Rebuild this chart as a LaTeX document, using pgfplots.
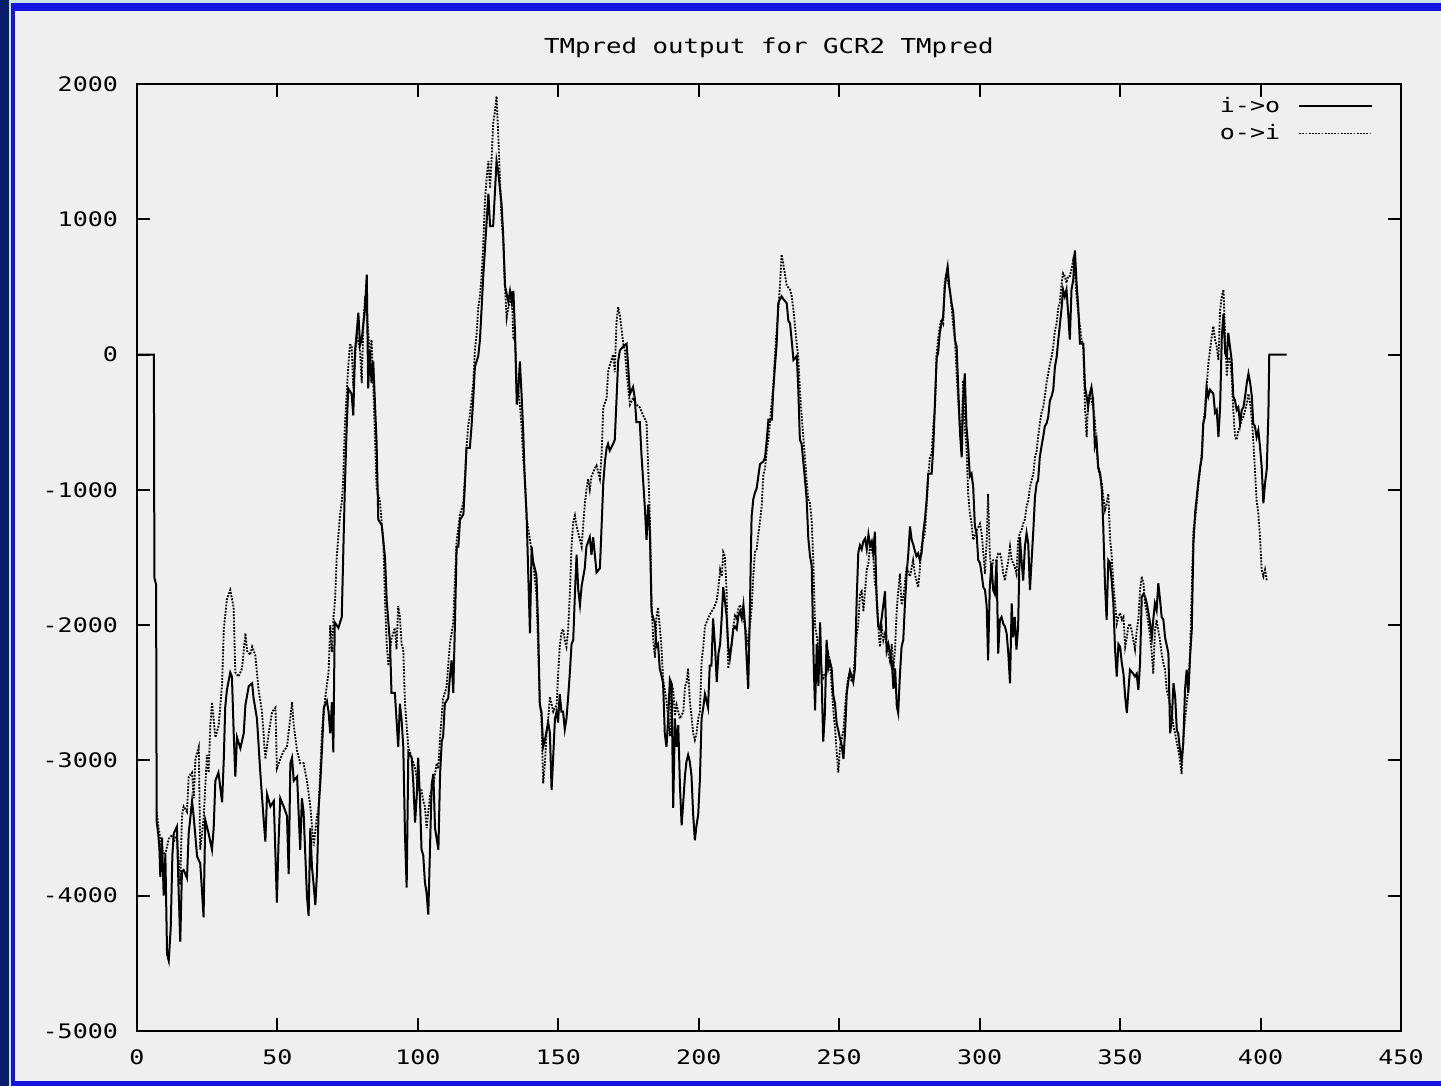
\documentclass[border=0pt]{standalone}
\usepackage{fontspec}
\usepackage{pgfplots}
\pgfplotsset{compat=1.18}
\newfontfamily\gp[FakeStretch=1.25]{DejaVu Sans Mono}
\definecolor{navy}{RGB}{10,30,110}
\definecolor{lightb}{RGB}{200,228,222}
\definecolor{frameblue}{RGB}{20,20,225}
\definecolor{bg}{RGB}{239,239,239}
\begin{document}
\begin{tikzpicture}
\fill[navy] (0pt,0pt) rectangle (720.5pt,543pt);
\fill[lightb] (4.5pt,0pt) rectangle (720.5pt,543pt);
\fill[frameblue] (5.5pt,0pt) rectangle (720.5pt,541.5pt);
\fill[bg] (7.5pt,2.5pt) rectangle (720.5pt,537.5pt);
\begin{axis}[
  at={(68.5pt,27.5pt)}, anchor=south west,
  scale only axis, width=632pt, height=473.5pt,
  xmin=0, xmax=450, ymin=-5000, ymax=2000,
  xtick={0,50,...,450}, ytick={-5000,-4000,...,2000},
  xticklabels={0,50,100,150,200,250,300,350,400,450},
  yticklabels={-5000,-4000,-3000,-2000,-1000,0,1000,2000},
  tick align=inside, major tick length=6.5pt,
  tick style={line width=1pt, black},
  axis line style={line width=1pt},
  xticklabel style={font=\gp, yshift=-6pt},
  yticklabel style={font=\gp, xshift=-6pt},
  title={TMpred output for GCR2 TMpred},
  title style={font={\gp\fontsize{10.3pt}{12pt}\selectfont}, yshift=3.5pt},
  legend style={font=\gp, draw=none, fill=none, at={(0.983,0.995)}, anchor=north east, row sep=0.5pt},
  legend cell align=right,
  legend plot pos=right,
  legend image code/.code={\path[draw=none,fill=none] (0pt,-1pt) rectangle (44pt,1pt); \draw[#1] (7.5pt,0pt) -- (44pt,0pt);},
  every axis plot/.append style={line width=1pt, black},
]
\addplot[black, line width=1pt] coordinates {
(0,0) (6,0) (6.2,-1650) (6.8,-1700) (7,-3450) (7.6,-3550) (8,-3660) (8.3,-3860) (8.9,-3570) (9.5,-4000) (10.1,-3700) (10.7,-4430) (11.3,-4480) (12,-4240) (12.6,-3700) (13.1,-3540) (14.2,-3490) (14.8,-3950) (15.4,-4340) (16,-3820) (16.6,-3810) (17.8,-3870) (18.4,-3540) (19.6,-3300) (20.2,-3420) (21.4,-3710) (22.5,-3760) (23.1,-3950) (23.7,-4160) (24.3,-3440) (25.5,-3540) (26.7,-3660) (27.3,-3500) (27.9,-3150) (29,-3090) (30.3,-3310) (30.9,-2990) (31.4,-2610) (32,-2480) (33.2,-2350) (33.8,-2380) (34.4,-2780) (35,-3120) (35.6,-2830) (36.8,-2910) (38,-2800) (38.6,-2590) (39.8,-2450) (41,-2430) (41.5,-2540) (42.7,-2690) (43.9,-3090) (45.1,-3440) (45.7,-3600) (46.3,-3250) (47.5,-3340) (48.7,-3300) (49.8,-4050) (50.4,-3600) (51,-3280) (52.2,-3340) (53.4,-3410) (54,-3840) (54.6,-3020) (55.2,-2980) (55.8,-3150) (57,-3120) (58.1,-3660) (58.7,-3280) (59.3,-3380) (60.5,-4000) (61.1,-4150) (61.7,-3500) (62.3,-3790) (62.9,-3920) (63.5,-4070) (64.1,-3820) (64.7,-3340) (65.3,-3150) (65.9,-2900) (66.5,-2610) (67.6,-2560) (68.2,-2640) (68.8,-2800) (69.4,-2570) (69.9,-2940) (70.4,-1980) (71.7,-2020) (72.9,-1940) (73.4,-1500) (74,-980) (74.6,-570) (75.2,-250) (76.4,-290) (77,-450) (77.6,30) (78.2,150) (78.8,310) (79.4,70) (80,110) (80.6,230) (81.2,350) (81.8,590) (82.3,-250) (82.9,30) (83.5,-210) (84.1,-50) (85.3,-650) (85.9,-1220) (87.1,-1260) (88.3,-1500) (88.9,-1820) (90.1,-2140) (90.6,-2500) (91.8,-2500) (92.4,-2700) (93,-2900) (93.6,-2580) (94.2,-2700) (94.8,-2900) (95.4,-3540) (96,-3940) (96.6,-2940) (97.8,-2980) (98.4,-3180) (99,-3460) (99.6,-3260) (100.1,-2980) (100.7,-3260) (101.3,-3660) (101.9,-3700) (102.5,-3900) (103.1,-3980) (103.7,-4140) (104.3,-3660) (104.9,-3180) (105.5,-3100) (106.1,-3500) (106.7,-3580) (107.3,-3660) (107.9,-3100) (108.5,-2860) (109,-2820) (109.6,-2580) (110.8,-2540) (111.4,-2380) (112,-2260) (112.6,-2500) (113.2,-1980) (113.8,-1420) (114.4,-1420) (115,-1220) (116.2,-1180) (116.8,-930) (117.3,-690) (118.5,-690) (119.1,-530) (119.7,-330) (120.3,-90) (121.5,-10) (122.1,110) (122.7,350) (123.3,590) (123.9,790) (124.5,990) (125.1,1190) (125.7,950) (126.8,950) (127.4,1190) (128,1430) (128.6,1350) (129.2,1230) (129.8,1110) (130.4,870) (131,510) (132.2,390) (132.8,470) (133.4,390) (134,470) (134.6,150) (135.2,-370) (135.7,-290) (136.3,-50) (136.9,-290) (137.5,-570) (138,-900) (138.7,-1180) (139.3,-1630) (139.9,-2060) (140.5,-1420) (141,-1530) (142.2,-1630) (142.8,-2000) (143.4,-2590) (144,-2640) (144.6,-2900) (145.2,-2850) (146.4,-2720) (147,-2800) (147.6,-3220) (148.2,-2960) (148.8,-2690) (149.4,-2640) (149.9,-2720) (150.5,-2510) (151.1,-2640) (151.7,-2640) (152.3,-2770) (152.9,-2690) (153.5,-2530) (154.1,-2350) (154.7,-2140) (155.3,-2110) (155.9,-1770) (156.5,-1480) (157.1,-1740) (157.7,-1850) (158.3,-1710) (159.4,-1580) (160,-1420) (161.2,-1350) (161.8,-1480) (162.4,-1350) (163,-1480) (163.6,-1610) (164.8,-1580) (165.4,-1270) (166,-950) (166.6,-790) (167.2,-690) (167.7,-660) (168.3,-710) (169.5,-660) (170.1,-630) (170.7,-340) (171.3,-50) (171.9,30) (173.1,60) (174.3,80) (174.9,-100) (175.5,-290) (176.6,-240) (177.2,-320) (177.8,-500) (179,-500) (179.6,-740) (180.8,-1130) (181.4,-1370) (182,-1110) (182.6,-1320) (183.2,-1900) (183.8,-1950) (184.4,-1980) (184.9,-2160) (185.5,-2140) (186.1,-2320) (186.7,-2370) (187.3,-2430) (187.9,-2800) (188.5,-2900) (189.1,-2690) (189.7,-2400) (190.3,-2430) (190.9,-3350) (191.5,-2690) (192.1,-2900) (192.7,-2740) (193.3,-3190) (193.9,-3480) (194.5,-3300) (195.1,-3110) (195.6,-3010) (196.2,-2960) (196.8,-3010) (197.4,-3110) (198,-3400) (198.6,-3590) (199.2,-3480) (199.8,-3400) (200.4,-3140) (201,-2690) (201.6,-2610) (202.2,-2510) (203.3,-2610) (203.9,-2300) (204.5,-2300) (205.1,-1950) (205.8,-2160) (206.4,-2420) (207,-2210) (207.6,-2140) (208.2,-1930) (208.7,-1720) (209.3,-1820) (209.9,-1930) (210.5,-2160) (211.1,-2240) (211.7,-2140) (212.3,-2030) (212.9,-2010) (213.5,-2030) (214.1,-1930) (214.7,-1900) (215.3,-1950) (215.9,-1850) (216.5,-2010) (217.1,-2270) (217.6,-2470) (218.2,-1880) (218.8,-1200) (219.4,-1070) (220,-1020) (220.6,-990) (221.8,-810) (223,-790) (223.6,-760) (224.2,-630) (224.8,-480) (226,-480) (226.5,-270) (227.1,-90) (227.7,70) (228.3,380) (228.9,410) (229.5,430) (230.1,410) (231.3,380) (231.9,250) (232.5,230) (233.1,100) (233.7,-40) (234.9,-10) (235.4,-240) (236,-630) (236.6,-660) (237.2,-790) (237.8,-920) (238.4,-1070) (239,-1360) (239.6,-1490) (240.2,-1560) (240.8,-2190) (241.4,-2630) (242,-2140) (242.6,-2450) (243.2,-1980) (243.8,-2450) (244.3,-2860) (244.9,-2650) (245.5,-2110) (246.1,-2320) (246.7,-2270) (247.3,-2320) (247.9,-2520) (248.5,-2580) (249.1,-2730) (249.7,-2780) (250.3,-2840) (250.9,-2890) (251.5,-2990) (252.1,-2780) (252.7,-2500) (253.2,-2420) (253.8,-2340) (254.4,-2370) (255,-2420) (255.6,-2320) (256.2,-1820) (256.8,-1460) (257.4,-1410) (258,-1440) (258.6,-1380) (259.2,-1360) (259.8,-1440) (260.4,-1330) (261,-1410) (261.6,-1380) (262.1,-1460) (262.7,-1310) (263.3,-1800) (263.9,-2010) (264.5,-2030) (265.1,-1950) (265.7,-1850) (266.3,-1750) (266.9,-2190) (267.5,-2140) (268.7,-2270) (269.3,-2470) (269.9,-2320) (270.5,-2600) (271,-2650) (271.6,-2370) (272.2,-2160) (272.8,-2110) (273.4,-1840) (274,-1620) (274.6,-1470) (275.2,-1270) (275.8,-1370) (276.3,-1400) (276.9,-1450) (277.5,-1490) (278.1,-1470) (278.7,-1520) (279.3,-1470) (279.9,-1320) (280.5,-1220) (281.1,-1080) (281.7,-880) (282.9,-880) (283.5,-680) (284.1,-340) (284.7,-20) (285.2,10) (285.8,160) (286.4,230) (287,280) (287.6,500) (288.2,600) (288.6,650) (289.2,500) (290,380) (290.6,310) (291.2,110) (291.8,60) (292.4,-260) (293,-580) (293.6,-760) (294.1,-340) (294.7,-140) (295.3,-530) (295.9,-680) (296.5,-900) (297.1,-880) (297.7,-980) (298.3,-1270) (298.9,-1320) (299.5,-1520) (300.1,-1540) (300.7,-1620) (301.3,-1720) (301.9,-1740) (302.5,-1860) (303,-2260) (303.6,-1720) (304.2,-1540) (304.8,-1740) (305.4,-1770) (306,-1520) (306.6,-2210) (307.2,-1960) (307.8,-1940) (308.4,-1990) (309,-2010) (309.6,-2060) (310.2,-2210) (310.8,-2430) (311.4,-1840) (311.9,-2090) (312.5,-1940) (313.1,-2180) (313.7,-2010) (314.3,-1350) (314.9,-1520) (315.5,-1670) (316.1,-1420) (316.7,-1320) (317.3,-1400) (317.9,-1740) (318.5,-1520) (319.1,-1300) (319.7,-1050) (320.3,-950) (320.8,-930) (321.4,-760) (322,-680) (322.6,-610) (323.2,-530) (323.8,-510) (324.4,-460) (325,-340) (325.6,-310) (326.2,-260) (326.8,-90) (327.4,-20) (328,110) (328.5,210) (329.2,350) (329.7,480) (330.3,430) (330.9,480) (331.5,310) (332.1,110) (332.7,480) (333.3,550) (333.9,770) (334.5,530) (335.1,350) (335.7,80) (336.9,80) (337.5,-240) (338.1,-310) (338.6,-390) (339.2,-290) (339.8,-240) (340.4,-340) (341,-680) (341.6,-630) (342.2,-830) (342.9,-880) (343.5,-1000) (344,-1270) (344.6,-1690) (345.2,-1960) (345.8,-1520) (346.4,-1540) (347,-1670) (347.6,-1840) (348.2,-2180) (348.8,-2380) (349.4,-2140) (350,-2160) (350.6,-2280) (351.2,-2360) (351.8,-2530) (352.4,-2650) (352.9,-2500) (353.5,-2330) (354.7,-2360) (355.3,-2380) (355.9,-2360) (356.5,-2480) (357.1,-2280) (357.7,-1790) (358.3,-1770) (358.9,-1790) (359.5,-1840) (360.1,-1910) (360.7,-1990) (361.3,-2090) (361.8,-1960) (362.4,-1840) (363,-1890) (363.6,-1690) (364.2,-1810) (364.8,-1940) (365.4,-1960) (366,-2090) (367.2,-2210) (367.8,-2800) (368.4,-2700) (369,-2430) (369.6,-2530) (370.2,-2780) (370.7,-2800) (371.3,-2920) (371.9,-3000) (372.5,-2870) (373.1,-2480) (373.7,-2330) (374.3,-2500) (374.9,-2230) (375.5,-2040) (376.1,-1400) (376.7,-1170) (377.3,-1050) (377.9,-930) (378.5,-830) (379.1,-760) (379.6,-510) (380.2,-460) (380.8,-240) (381.4,-310) (382,-260) (383.2,-290) (383.8,-430) (384.4,-410) (385,-610) (385.6,-390) (386.2,130) (386.8,300) (387.4,10) (388,-20) (388.5,160) (389.1,60) (389.7,-40) (390.3,-310) (390.9,-340) (391.5,-410) (392.1,-390) (392.7,-510) (393.3,-410) (393.9,-390) (394.5,-310) (395.1,-210) (395.7,-140) (396.3,-210) (396.9,-310) (397.4,-510) (398,-530) (398.6,-610) (399.2,-560) (399.8,-680) (400.4,-830) (401,-1100) (401.6,-950) (402.2,-850) (402.8,-430) (403.1,0) (409.3,0)
};
\addlegendentry{i->o}
\addplot[black, line width=0.9pt, dash pattern=on 0.9pt off 0.7pt] coordinates {
(7,-3380) (7.7,-3500) (8.9,-3660) (10,-3700) (11.3,-3580) (12.5,-3550) (13.1,-3600) (14.2,-3550) (15.4,-3920) (16,-3410) (16.6,-3340) (17.8,-3380) (18.4,-3120) (19.6,-3090) (20.2,-3280) (20.8,-2990) (22,-2900) (22.5,-3660) (23.7,-3440) (24.9,-2960) (25.5,-3090) (26.1,-2740) (26.7,-2570) (27.9,-2830) (29.1,-2740) (30.3,-2430) (30.9,-2030) (32,-1810) (33.2,-1740) (34.4,-1870) (35,-2350) (36.2,-2380) (37.4,-2320) (38.6,-2060) (39.2,-2190) (40.3,-2220) (41,-2160) (42.1,-2220) (43.3,-2480) (44.5,-2640) (45.7,-2990) (46.9,-2800) (48.1,-2640) (49.3,-2610) (49.8,-3060) (51,-2990) (52.2,-2930) (53.4,-2900) (55.2,-2570) (55.8,-2740) (57,-2930) (58.1,-3020) (59.3,-3020) (60.5,-3150) (61.7,-3340) (62.9,-3630) (64.1,-3410) (64.7,-3340) (65.9,-2770) (67,-2540) (68.2,-2350) (68.8,-2000) (69.4,-2200) (70,-1930) (70.5,-1820) (71.1,-1500) (71.7,-1340) (72.3,-1180) (72.9,-1090) (73.4,-930) (74,-530) (75.2,-90) (75.8,70) (76.4,70) (77,-250) (78.2,150) (79.4,30) (80,-210) (80.6,230) (81.2,430) (81.8,270) (82.3,190) (82.9,-50) (83.5,110) (84.1,-210) (85.3,-980) (86.5,-1090) (87.7,-1380) (88.3,-1820) (88.9,-2140) (89.5,-2300) (90.6,-2100) (91.8,-2020) (92.4,-2180) (93,-1860) (93.6,-1940) (94.2,-2140) (94.8,-2180) (95.4,-2580) (96,-2740) (96.6,-2900) (97.8,-2980) (99,-3060) (99.6,-3140) (100.1,-3220) (101.3,-3220) (101.9,-3300) (102.5,-3340) (103.1,-3500) (104.3,-3260) (105.5,-3180) (106.7,-3020) (107.3,-3060) (107.9,-2820) (109,-2540) (110.2,-2460) (111.4,-2140) (112.6,-1980) (113.2,-1660) (113.8,-1380) (115,-1180) (115.6,-1140) (116.2,-1090) (116.8,-890) (117.3,-690) (117.9,-530) (118.5,-450) (119.1,-330) (119.7,-210) (120.3,30) (120.9,150) (121.5,350) (122.1,430) (122.7,590) (123.3,830) (123.9,1150) (124.5,1310) (125.1,1430) (125.7,1230) (126.3,1470) (126.8,1710) (127.4,1790) (128,1910) (128.6,1630) (129.2,1310) (129.8,990) (130.4,830) (131,510) (131.6,270) (132.2,350) (132.8,390) (133.4,470) (134,110) (134.6,110) (135.2,-210) (135.7,-250) (136.3,-370) (136.9,-530) (137.5,-770) (138.1,-900) (138.7,-1210) (139.9,-1370) (141,-1530) (142.2,-1770) (142.8,-2160) (143.4,-2560) (144,-2690) (144.6,-3170) (145.2,-3030) (145.8,-2800) (146.4,-2690) (147,-2530) (148.2,-2640) (149.4,-2590) (149.9,-2370) (150.5,-2160) (151.1,-2060) (151.7,-2030) (152.3,-2110) (152.9,-2160) (153.5,-2030) (154.1,-1770) (154.7,-1420) (155.3,-1240) (155.9,-1190) (156.5,-1270) (157.7,-1370) (158.3,-1420) (158.8,-1270) (159.4,-1110) (160,-1000) (160.6,-920) (161.2,-1000) (161.8,-900) (163,-840) (163.6,-820) (164.8,-920) (165.4,-740) (166,-390) (167.2,-320) (167.7,-130) (168.3,-80) (169.5,0) (170.1,-130) (170.7,240) (171.3,350) (171.9,290) (172.5,190) (173.1,80) (173.7,30) (174.3,-130) (175.5,-370) (176.6,-320) (177.8,-370) (179,-390) (180.2,-450) (181.4,-500) (182,-840) (182.6,-1210) (183.2,-1850) (183.8,-2110) (184.4,-2240) (184.9,-1950) (185.5,-1870) (186.1,-2010) (186.7,-2160) (187.3,-2400) (188.5,-2560) (189.7,-2820) (190.3,-2430) (190.9,-2480) (191.5,-2670) (192.1,-2590) (193.3,-2690) (194.5,-2640) (195.1,-2450) (195.6,-2430) (196.2,-2320) (196.8,-2560) (197.4,-2670) (198,-2800) (198.6,-2850) (199.2,-2800) (199.8,-2690) (200.4,-2640) (201,-2270) (201.6,-2160) (202.2,-2010) (203.3,-1950) (204.5,-1900) (205.2,-1880) (206.4,-1820) (207,-1720) (207.6,-1590) (208.2,-1640) (208.7,-1460) (209.3,-1490) (209.9,-1750) (210.5,-2320) (211.1,-2210) (211.7,-2140) (212.3,-2010) (212.9,-1930) (213.5,-1950) (214.1,-1880) (214.7,-1850) (215.3,-1900) (215.9,-1950) (216.5,-2010) (217.1,-2080) (217.6,-2140) (218.2,-2010) (218.8,-1880) (219.4,-1640) (220,-1460) (220.6,-1440) (221.2,-1330) (221.8,-1230) (222.4,-1120) (223,-890) (223.6,-840) (224.2,-710) (224.8,-630) (225.4,-480) (226,-350) (226.5,-240) (227.1,-10) (227.7,170) (228.3,330) (228.9,510) (229.5,740) (230.1,670) (230.7,590) (231.3,510) (232.5,480) (233.1,430) (233.7,330) (234.3,200) (234.9,70) (235.4,-10) (236,-270) (236.6,-450) (237.2,-610) (237.8,-760) (238.4,-940) (239,-1070) (239.6,-1100) (240.2,-1230) (240.8,-1540) (241.4,-2010) (242,-2080) (243.2,-2270) (244.3,-2390) (245.5,-2340) (246.1,-2210) (246.7,-2270) (247.3,-2450) (247.9,-2630) (248.5,-2760) (249.1,-2940) (249.7,-3090) (250.3,-2890) (250.9,-2840) (251.5,-2780) (252.1,-2600) (252.7,-2470) (253.2,-2390) (253.8,-2340) (254.4,-2420) (255,-2390) (255.6,-2240) (256.2,-2080) (256.8,-1980) (257.4,-1770) (258,-1750) (258.6,-1900) (259.2,-1750) (259.8,-1590) (260.4,-1540) (261,-1410) (261.6,-1440) (262.1,-1490) (262.7,-1690) (263.3,-1750) (263.9,-2010) (264.5,-2160) (265.1,-2010) (265.7,-2110) (266.3,-2060) (266.9,-2160) (267.5,-2210) (268.1,-2270) (268.7,-2140) (269.3,-2340) (269.9,-2160) (270.5,-1880) (271,-1750) (271.6,-1620) (272.2,-1850) (272.8,-1800) (274,-1570) (275.2,-1640) (276.3,-1520) (276.9,-1620) (278.1,-1720) (278.7,-1590) (279.3,-1420) (279.9,-1370) (280.5,-1320) (281.1,-1120) (281.7,-900) (282.3,-760) (282.9,-730) (283.5,-530) (284.1,-390) (284.7,10) (285.2,110) (285.8,210) (286.4,260) (287,230) (287.6,550) (288.2,600) (288.8,530) (289.4,480) (290,350) (290.6,210) (291.2,110) (291.8,-140) (292.4,-360) (293,-530) (293.6,-630) (294.1,-190) (294.7,-530) (295.3,-680) (295.9,-1030) (296.5,-1170) (297.1,-1250) (297.7,-1370) (298.9,-1300) (300.1,-1250) (300.7,-1320) (301.3,-1470) (301.9,-1620) (302.5,-1370) (303,-1030) (303.6,-1470) (304.2,-1620) (304.8,-1520) (306,-1520) (306.6,-1470) (307.2,-1470) (307.8,-1520) (308.4,-1620) (309,-1670) (309.6,-1590) (310.2,-1520) (310.8,-1420) (311.4,-1520) (311.9,-1540) (312.5,-1570) (313.1,-1620) (313.7,-1370) (314.3,-1320) (314.9,-1300) (315.5,-1250) (316.1,-1220) (316.7,-1120) (317.3,-1080) (317.9,-980) (319.1,-880) (319.7,-760) (320.3,-710) (320.8,-610) (321.4,-510) (322,-430) (322.6,-390) (323.2,-310) (323.8,-210) (324.4,-140) (325,-70) (325.6,-20) (326.2,60) (326.8,180) (327.4,230) (328,350) (328.5,380) (329.2,530) (329.7,600) (330.3,580) (330.9,530) (331.5,580) (332.1,580) (332.7,630) (333.3,700) (333.9,600) (334.5,430) (335.1,310) (335.7,210) (336.3,110) (336.9,60) (337.5,-390) (338.1,-610) (338.6,-340) (339.2,-290) (340.4,-390) (341,-480) (341.6,-680) (342.2,-850) (342.9,-900) (343.5,-950) (344,-1050) (344.6,-1150) (345.2,-1100) (345.8,-1030) (346.4,-1350) (347,-1490) (347.6,-1690) (348.2,-1840) (348.8,-1990) (349.4,-1940) (350,-1910) (350.6,-1960) (351.2,-1940) (351.8,-2160) (352.4,-2090) (352.9,-2010) (353.5,-1990) (354.1,-2040) (354.7,-2110) (355.3,-2180) (355.9,-2040) (356.5,-1960) (357.1,-1740) (357.7,-1640) (358.3,-1690) (358.9,-1840) (359.5,-1910) (360.1,-1990) (360.7,-2090) (361.3,-2210) (361.8,-2360) (362.4,-2040) (363,-1960) (363.6,-2040) (364.2,-2110) (364.8,-2210) (365.4,-2280) (366,-2330) (366.6,-2480) (367.2,-2530) (367.8,-2580) (368.4,-2650) (369,-2750) (369.6,-2800) (370.2,-2870) (370.7,-2920) (371.3,-3000) (371.9,-3100) (372.5,-2830) (373.1,-2700) (373.7,-2580) (374.3,-2460) (374.9,-2230) (375.5,-1740) (376.1,-1300) (376.7,-1220) (377.3,-1100) (377.9,-950) (378.5,-850) (379.1,-710) (379.6,-510) (380.2,-410) (380.8,-240) (381.4,-70) (382,30) (382.6,130) (383.2,210) (383.8,110) (384.4,60) (385,-40) (385.6,330) (386.2,430) (386.8,480) (387.4,130) (388,-160) (388.5,-20) (389.1,-40) (389.7,-160) (390.3,-410) (390.9,-610) (391.5,-630) (392.1,-560) (392.7,-530) (393.3,-480) (393.9,-460) (394.5,-410) (395.1,-360) (395.7,-290) (396.3,-360) (396.9,-480) (397.4,-630) (398,-850) (398.6,-1080) (399.2,-1170) (399.8,-1350) (400.4,-1590) (401,-1640) (401.6,-1590) (402.2,-1670)
};
\addlegendentry{o->i}
\end{axis}
\end{tikzpicture}
\end{document}
